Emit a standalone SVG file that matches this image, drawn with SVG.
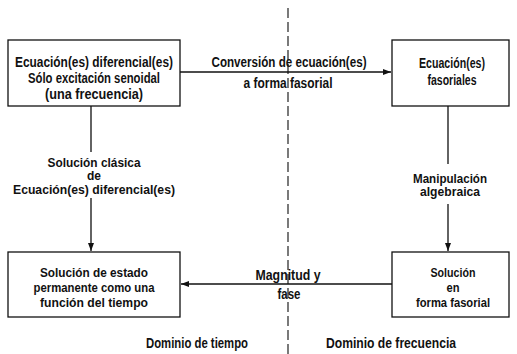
<svg xmlns="http://www.w3.org/2000/svg" width="517" height="354" viewBox="0 0 517 354">
<defs>
<style>
.box{fill:#fff;stroke:#111;stroke-width:1.3}
.ln{fill:none;stroke:#111;stroke-width:1.3}
.dash{fill:none;stroke:#222;stroke-width:1.2;stroke-dasharray:10 4}
text{font-family:"Liberation Sans",Arial,sans-serif;font-weight:bold;font-size:14px;fill:#111;text-anchor:middle}
text.s{font-size:12.5px}
text.b{font-size:13.4px}
</style>
<marker id="ah" viewBox="0 0 8 6" refX="8" refY="3" markerWidth="8" markerHeight="6" markerUnits="userSpaceOnUse" orient="auto">
<path d="M0,0 L8,3 L0,6 Z" fill="#111"/>
</marker>
</defs>
<rect width="517" height="354" fill="#fff"/>
<path class="dash" d="M288,8 V354"/>
<g id="connectors">
<path class="ln" d="M180,72 H391" marker-end="url(#ah)"/>
<path class="ln" d="M392,284 H181" marker-end="url(#ah)"/>
<path class="ln" d="M91,106 V152 M91,198 V251" marker-end="url(#ah)"/>
<path class="ln" d="M448,106 V164 M448,204 V251" marker-end="url(#ah)"/>
<text x="289" y="66.5" textLength="155" lengthAdjust="spacingAndGlyphs">Conversión de ecuación(es)</text>
<text x="288" y="87.5" textLength="89" lengthAdjust="spacingAndGlyphs">a forma fasorial</text>
<text class="s" x="94" y="166.5" textLength="93" lengthAdjust="spacingAndGlyphs">Solución clásica</text>
<text class="s" x="94" y="180" textLength="14" lengthAdjust="spacingAndGlyphs">de</text>
<text class="s" x="94" y="193.5" textLength="162" lengthAdjust="spacingAndGlyphs">Ecuación(es) diferencial(es)</text>
<text class="s" x="450" y="182.5" textLength="74" lengthAdjust="spacingAndGlyphs">Manipulación</text>
<text class="s" x="450" y="196" textLength="60" lengthAdjust="spacingAndGlyphs">algebraica</text>
<text x="288" y="280" textLength="65" lengthAdjust="spacingAndGlyphs">Magnitud y</text>
<text x="289" y="299" textLength="23" lengthAdjust="spacingAndGlyphs">fase</text>
</g>
<g id="n1">
<rect class="box" x="8" y="40" width="172" height="66"/>
<text x="94" y="67" textLength="158" lengthAdjust="spacingAndGlyphs">Ecuación(es) diferencial(es)</text>
<text x="94" y="83" textLength="132" lengthAdjust="spacingAndGlyphs">Sólo excitación senoidal</text>
<text x="94" y="98.5" textLength="98" lengthAdjust="spacingAndGlyphs">(una frecuencia)</text>
</g>
<g id="n2">
<rect class="box" x="392" y="40" width="117" height="66"/>
<text x="452" y="67.5" textLength="66" lengthAdjust="spacingAndGlyphs">Ecuación(es)</text>
<text x="452" y="84.5" textLength="49" lengthAdjust="spacingAndGlyphs">fasoriales</text>
</g>
<g id="n3">
<rect class="box" x="8" y="252" width="172" height="65"/>
<text class="b" x="94" y="276.5" textLength="108" lengthAdjust="spacingAndGlyphs">Solución de estado</text>
<text class="b" x="94" y="291.8" textLength="121" lengthAdjust="spacingAndGlyphs">permanente como una</text>
<text class="b" x="94" y="307.1" textLength="108" lengthAdjust="spacingAndGlyphs">función del tiempo</text>
</g>
<g id="n4">
<rect class="box" x="392" y="252" width="117" height="65"/>
<text class="b" x="453" y="276.5" textLength="45" lengthAdjust="spacingAndGlyphs">Solución</text>
<text class="b" x="453" y="291.8" textLength="13" lengthAdjust="spacingAndGlyphs">en</text>
<text class="b" x="453" y="307.1" textLength="74" lengthAdjust="spacingAndGlyphs">forma fasorial</text>
</g>
<g id="footer">
<text x="197" y="348" textLength="102" lengthAdjust="spacingAndGlyphs">Dominio de tiempo</text>
<text x="391" y="348" textLength="130" lengthAdjust="spacingAndGlyphs">Dominio de frecuencia</text>
</g>
</svg>
